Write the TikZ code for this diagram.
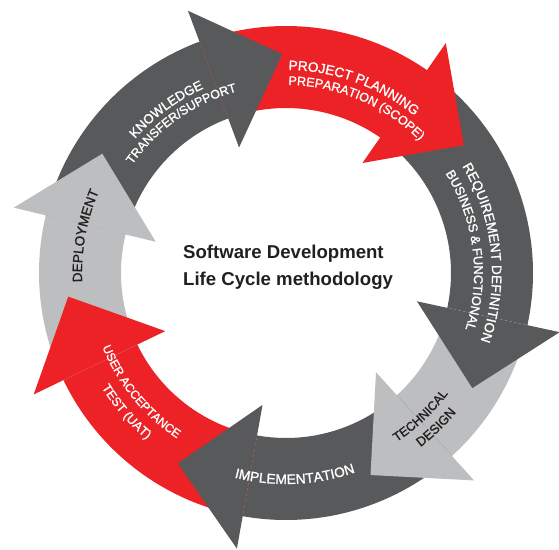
\documentclass[tikz,border=0pt]{standalone}
\usepackage{fontspec}
\setmainfont{Liberation Sans}
\newfontfamily\lblfont[FakeBold=1.3]{Liberation Sans}
\usetikzlibrary{decorations.text}
\definecolor{cred}{HTML}{EC2227}
\definecolor{cdark}{HTML}{58595B}
\definecolor{clight}{HTML}{BCBEC0}
\definecolor{ctext}{HTML}{231F20}
% band of an arrow: colour, start angle, end angle (clockwise)
\newcommand{\bandseg}[3]{%
  \fill[#1] (#2:247) arc[start angle=#2, end angle=#3, radius=247]
    -- (#3:165) arc[start angle=#3, end angle=#2, radius=165] -- cycle;}
% head of an arrow: colour, back angle
\newcommand{\headseg}[2]{%
  \fill[#1] (#2:280) -- ({#2-19.5}:219) -- (#2:134) -- cycle;}
% text read clockwise (tops outward): centre angle, radius, size, colour, text
\newcommand{\cwlabel}[5]{%
  \path[decorate, decoration={text along path, text align=center,
      text color=#4, text={|\lblfont\fontsize{#3}{#3}\selectfont|#5}}]
    ({#1+60}:#2) arc[start angle={#1+60}, end angle={#1-60}, radius=#2];}
% text read counter-clockwise (tops inward)
\newcommand{\ccwlabel}[5]{%
  \path[decorate, decoration={text along path, text align=center,
      text color=#4, text={|\lblfont\fontsize{#3}{#3}\selectfont|#5}}]
    ({#1-60}:#2) arc[start angle={#1-60}, end angle={#1+60}, radius=#2];}
\begin{document}
\begin{tikzpicture}[x=1pt, y=1pt,
  titletext/.style={anchor=base west, inner sep=0pt, text=ctext,
    font=\fontsize{18.6}{18.6}\selectfont\bfseries}]
\useasboundingbox[fill=white] (-286,-276) rectangle (273,273);
% bands
\bandseg{cdark}{166.5}{110.5}   % knowledge
\bandseg{cred}{110.5}{55.2}     % project planning
\bandseg{cdark}{55.2}{-12.2}    % requirement
\bandseg{clight}{-12.2}{-47.8}  % technical design
\bandseg{cdark}{-47.8}{-100.1}  % implementation
\bandseg{cred}{-100.1}{-154.3}  % UAT
\bandseg{clight}{205.7}{166.5}  % deployment
% heads
\headseg{cdark}{110.5}
\headseg{cred}{55.2}
\headseg{cdark}{-12.2}
\headseg{clight}{-47.8}
\headseg{cdark}{-100.1}
\headseg{cred}{-154.3}
\headseg{clight}{166.5}
% labels
\cwlabel{169.5}{204}{13.5}{ctext}{DEPLOYMENT}
\cwlabel{126.2}{202}{13.2}{white}{KNOWLEDGE}
\cwlabel{125}{188}{12.4}{white}{TRANSFER/SUPPORT}
\cwlabel{70}{203}{13.6}{white}{PROJECT PLANNING}
\cwlabel{67}{188}{12.6}{white}{PREPARATION (SCOPE)}
\cwlabel{6}{206}{13.6}{white}{REQUIREMENT DEFINITION}
\cwlabel{7.3}{188}{12.8}{white}{BUSINESS {\&} FUNCTIONAL}
\ccwlabel{-46.7}{202}{12.5}{ctext}{TECHNICAL}
\ccwlabel{-45.8}{220}{13}{ctext}{DESIGN}
\ccwlabel{-87.5}{211}{13.8}{white}{IMPLEMENTATION}
\ccwlabel{-140.7}{198}{12.1}{white}{USER ACCEPTANCE}
\ccwlabel{-139}{217}{12.6}{white}{TEST (UAT)}
% title
\node[titletext] (title1) at (-103,15) {Software Development};
\node[titletext] (title2) at (-103,-12) {Life Cycle methodology};
\end{tikzpicture}
\end{document}
